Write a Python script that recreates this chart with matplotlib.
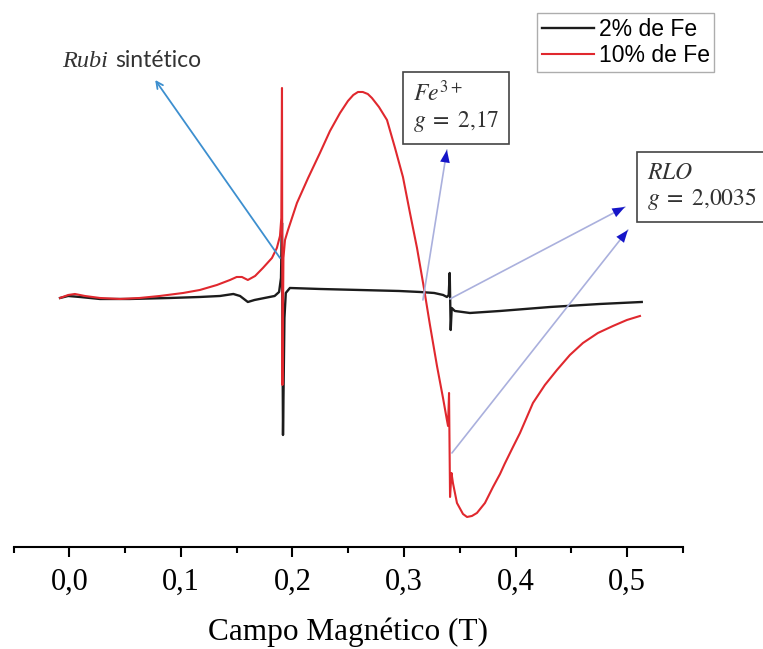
import numpy as np
import matplotlib
matplotlib.use("Agg")
import matplotlib.pyplot as plt
from matplotlib.ticker import MultipleLocator, FuncFormatter

plt.rcParams['mathtext.fontset'] = 'stix'

# EPR spectra, field in T, signal in arbitrary units
campo_2 = [-0.0083, -0.001, 0.0096, 0.0275, 0.054, 0.090, 0.117, 0.135, 0.147, 0.153,
           0.160, 0.166, 0.175, 0.184, 0.188, 0.1897, 0.1906, 0.1915, 0.1928, 0.194,
           0.1977, 0.2247, 0.260, 0.2955, 0.3142, 0.327, 0.335, 0.3384, 0.3400, 0.3409,
           0.3418, 0.3427, 0.3455, 0.359, 0.386, 0.431, 0.4755, 0.513]
sinal_2 = [0, 2, 1, -1, -1, 0, 1, 2, 4, 2,
           -4, -2, 0, 2, 6, 20, 75, -137, -20, 5,
           10, 9, 8, 7, 6, 5, 3, 1, 3, 25,
           -32, -10, -13, -15, -13, -9, -6, -4]

campo_10 = [-0.0083, -0.001, 0.005, 0.014, 0.0275, 0.0455, 0.063, 0.081, 0.102, 0.117,
            0.1323, 0.144, 0.150, 0.1547, 0.160, 0.1665, 0.1735, 0.1816, 0.186, 0.1888,
            0.190, 0.1906, 0.191, 0.1919, 0.1933, 0.196, 0.204, 0.214, 0.2246, 0.2336,
            0.2426, 0.2497, 0.2545, 0.2587, 0.263, 0.2675, 0.2712, 0.2775, 0.2847, 0.2919,
            0.2990, 0.3053, 0.3116, 0.3178, 0.3232, 0.3295, 0.3349, 0.3384, 0.3394, 0.3403,
            0.3412, 0.3425, 0.3438, 0.3474, 0.3528, 0.3564, 0.3608, 0.3653, 0.3725, 0.3797,
            0.386, 0.3901, 0.3976, 0.4039, 0.4155, 0.4262, 0.437, 0.4486, 0.4603, 0.4737,
            0.4872, 0.4997, 0.5114]
sinal_10 = [0, 3, 4, 2, 0, -1, 0, 2, 5, 8,
            13, 18, 21, 21, 18, 22, 30, 40, 50, 62,
            80, 210, -87, 40, 58, 68, 95, 120, 145, 167,
            185, 197, 203, 206, 206, 204, 200, 191, 178, 150,
            121, 85, 50, 10, -27, -68, -100, -122, -128, -95,
            -199, -175, -185, -205, -216, -219, -218, -215, -205, -189,
            -176, -166, -149, -135, -105, -87, -72, -57, -45, -35,
            -28, -22, -18]

rotulos = ['2% de Fe', '10% de Fe']

fig = plt.figure(figsize=(7.63, 6.49), dpi=100)
ax = fig.add_axes([0.0177, 0.1572, 0.8775, 0.812])

ax.plot(campo_2, sinal_2, color='#1c1c1c', lw=1.7, label=rotulos[0])
ax.plot(campo_10, sinal_10, color='#e0282e', lw=1.5, label=rotulos[1])

ax.set_xlim(-0.05, 0.55)
ax.set_ylim(-249, 278)

# only the field axis is shown
for s in ['left', 'right', 'top']:
    ax.spines[s].set_visible(False)
ax.spines['bottom'].set_linewidth(1.5)
ax.set_yticks([])
ax.xaxis.set_major_locator(MultipleLocator(0.1))
ax.xaxis.set_minor_locator(MultipleLocator(0.05))
ax.xaxis.set_major_formatter(FuncFormatter(lambda v, p: f'{v:.1f}'.replace('.', ',')))
ax.tick_params(axis='x', which='major', direction='out', length=7.2, width=1.5, pad=8,
               labelsize=22, labelfontfamily='Liberation Serif')
ax.tick_params(axis='x', which='minor', direction='out', length=4.3, width=1.5)
ax.set_xlabel('Campo Magnético (T)', fontsize=22.5, family='Liberation Serif', labelpad=15)

# labels and arrows
ax.text(-0.0065, 231, 'Rubi', fontsize=17.5, family='Liberation Serif', style='italic',
        color='#333333', va='baseline')
ax.text(0.041, 231, 'sintético', fontsize=16.5, family='Lato', color='#333333', va='baseline')
ax.annotate('', xy=(0.077, 218), xytext=(0.1888, 40),
            arrowprops=dict(arrowstyle='->', color='#3d8fcf', lw=1.3,
                            shrinkA=0, shrinkB=0, mutation_scale=12))

caixa = dict(boxstyle='square,pad=0.42', fc='white', ec='#444444', lw=1.2)
ax.text(0.308, 191, '$Fe^{3+}$\n$g\\;=\\;2{,}17$', fontsize=17, ha='left', va='center',
        multialignment='left', bbox=caixa, color='#333333', linespacing=1.1)
ax.text(0.5175, 112, '$RLO$\n$g\\;=\\;2{,}0035$', fontsize=17, ha='left', va='center',
        multialignment='left', bbox=caixa, color='#333333', linespacing=1.1, clip_on=False)

setas = [((0.3384, 148), (0.3169, -2)),
         ((0.4979, 91), (0.3411, -1)),
         ((0.5006, 68), (0.3429, -155))]
for ponta, base in setas:
    ax.annotate('', xy=ponta, xytext=base, annotation_clip=False,
                arrowprops=dict(arrowstyle='-', color='#aab0dd', lw=1.2, shrinkA=0, shrinkB=0))
    ax.annotate('', xy=ponta, xytext=base, annotation_clip=False,
                arrowprops=dict(arrowstyle='-|>,head_length=0.9,head_width=0.35', color='#1515c8',
                                lw=0, shrinkA=0, shrinkB=0, mutation_scale=10))

fig.legend(loc='upper left', bbox_to_anchor=(537 / 763, 1 - 13 / 649), borderaxespad=0,
           prop={'family': 'Liberation Sans', 'size': 16.5}, frameon=True, fancybox=False,
           edgecolor='#999999', handlelength=2.3, handletextpad=0.2, borderpad=0.2,
           labelspacing=0.15)

fig.savefig('out.png', dpi=100)
